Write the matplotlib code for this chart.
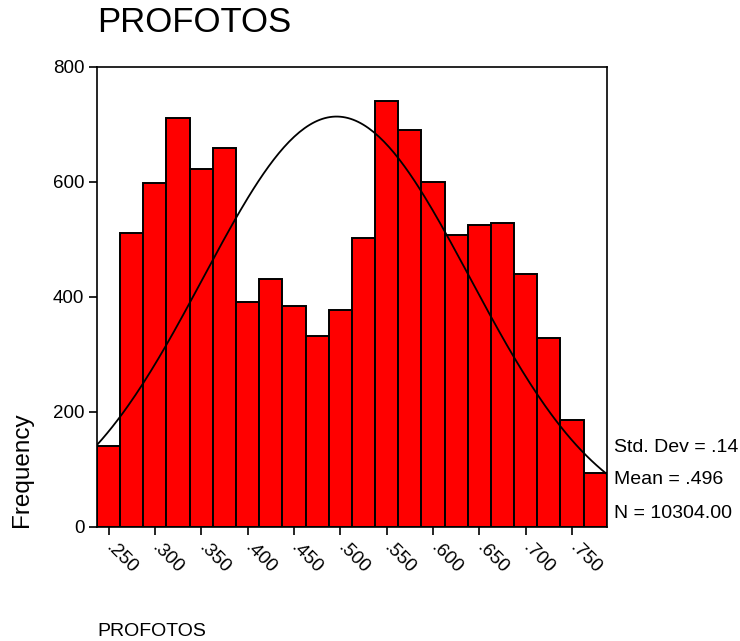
import numpy as np
import matplotlib
matplotlib.use("Agg")
from matplotlib import pyplot as plt

plt.rcParams['font.family'] = ['Liberation Sans', 'DejaVu Sans']

# histogram bins (centres), width .025
bin_centers = [0.250, 0.275, 0.300, 0.325, 0.350, 0.375, 0.400, 0.425, 0.450, 0.475, 0.500,
               0.525, 0.550, 0.575, 0.600, 0.625, 0.650, 0.675, 0.700, 0.725, 0.750, 0.775]
counts = [141, 511, 598, 711, 623, 659, 391, 431, 384, 332, 377,
          503, 741, 690, 600, 508, 525, 529, 440, 329, 186, 94]
bin_width = 0.025
tick_vals = [0.25, 0.30, 0.35, 0.40, 0.45, 0.50, 0.55, 0.60, 0.65, 0.70, 0.75]
tick_labels = ['.250', '.300', '.350', '.400', '.450', '.500', '.550', '.600', '.650', '.700', '.750']

mean = 0.496
std = 0.144
n = 10304

fig = plt.figure(figsize=(7.4, 6.41), dpi=100)
ax = fig.add_axes([0.131, 0.178, 0.689, 0.7176])

ax.bar(bin_centers, counts, width=bin_width, color='#ff0000', edgecolor='black', linewidth=1.4)

lo = bin_centers[0] - bin_width / 2
hi = bin_centers[-1] + bin_width / 2
xs = np.linspace(lo, hi, 200)
ys = n * bin_width / (std * np.sqrt(2 * np.pi)) * np.exp(-0.5 * ((xs - mean) / std) ** 2)
ax.plot(xs, ys, color='black', linewidth=1.3)

ax.set_xlim(lo, hi)
ax.set_ylim(0, 800)
ax.set_yticks([0, 200, 400, 600, 800])
ax.set_xticks(tick_vals)
ax.set_xticklabels(tick_labels, rotation=-45, ha='left', va='center', rotation_mode='anchor')
ax.tick_params(axis='both', direction='out', length=6, width=1.2, labelsize=13.5, pad=3)
ax.tick_params(axis='x', pad=7)
for s in ax.spines.values():
    s.set_linewidth(1.2)

fig.text(97 / 740, 1 - 23 / 641, 'PROFOTOS', fontsize=25, ha='left', va='center')
fig.text(97 / 740, 1 - 631 / 641, 'PROFOTOS', fontsize=14, ha='left', va='center')
fig.text(22 / 740, 1 - 470 / 641, 'Frequency', fontsize=17.5, rotation=90, ha='center', va='center')

fig.text(614 / 740, 1 - 448 / 641, 'Std. Dev = .14', fontsize=14, ha='left', va='center')
fig.text(614 / 740, 1 - 480 / 641, 'Mean = .496', fontsize=14, ha='left', va='center')
fig.text(614 / 740, 1 - 513 / 641, 'N = 10304.00', fontsize=14, ha='left', va='center')

fig.savefig('out.png', dpi=100)
